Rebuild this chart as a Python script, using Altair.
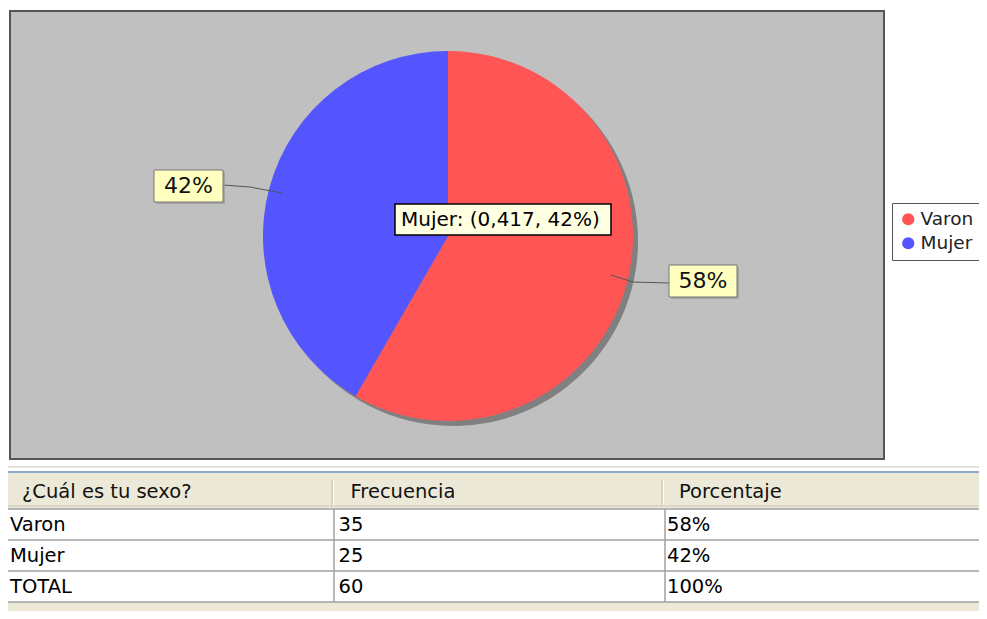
import altair as alt
import pandas as pd

# ---- data ----
categories = ["Varon", "Mujer"]
frecuencias = [35, 25]
porcentajes = ["58%", "42%"]
total_label = "TOTAL"
total_frecuencia = 60
total_porcentaje = "100%"
header_labels = ["¿Cuál es tu sexo?", "Frecuencia", "Porcentaje"]
colors = ["#ff5555", "#5555ff"]
tooltip_category = "Mujer"

FONT = "DejaVu Sans"
W, H = 971, 603
CX, CY, R = 440, 228, 185

one = pd.DataFrame({"k": [0]})


def box(x1, x2, y1, y2, fill, stroke=None, sw=1, opacity=1):
    kw = dict(fill=fill, opacity=opacity)
    if stroke:
        kw.update(stroke=stroke, strokeWidth=sw)
    return alt.Chart(one).mark_rect(**kw).encode(
        x=alt.value(x1), x2=alt.value(x2), y=alt.value(y1), y2=alt.value(y2)
    )


def line(x1, y1, x2, y2, color, sw=1):
    return alt.Chart(one).mark_rule(color=color, strokeWidth=sw).encode(
        x=alt.value(x1), x2=alt.value(x2), y=alt.value(y1), y2=alt.value(y2)
    )


def label(text, x, y, size=20, align="center", color="#111"):
    return alt.Chart(one).mark_text(
        text=text, font=FONT, fontSize=size, align=align, baseline="middle", color=color
    ).encode(x=alt.value(x), y=alt.value(y))


# ---- pie ----
pie_df = pd.DataFrame(
    {"sexo": categories, "frecuencia": frecuencias, "orden": list(range(len(categories)))}
)
theta = alt.Theta("frecuencia:Q", stack=True)
color_scale = alt.Scale(domain=categories, range=colors)

plot_bg = box(2, 876, 3, 451, "#c0c0c0", stroke="#555555", sw=2)

shadow = alt.Chart(pie_df).mark_arc(radius=R, color="#808080").encode(
    theta=theta, order=alt.Order("orden:Q"), x=alt.value(CX + 5), y=alt.value(CY + 5)
)
pie = alt.Chart(pie_df).mark_arc(radius=R).encode(
    theta=theta,
    order=alt.Order("orden:Q"),
    color=alt.Color(
        "sexo:N",
        scale=color_scale,
        legend=alt.Legend(
            title=None,
            orient="none",
            legendX=884,
            legendY=195,
            symbolType="circle",
            symbolSize=150,
            symbolStrokeWidth=0,
            labelFont=FONT,
            labelFontSize=18.5,
            labelColor="#222222",
            labelOffset=3,
            strokeColor="#555555",
            fillColor="white",
            padding=7,
            rowPadding=5,
        ),
    ),
    x=alt.value(CX),
    y=alt.value(CY),
)

# section labels
lbl_mujer = [
    line(215, 177, 242, 179, "#555555"),
    line(242, 179, 274, 185, "#555555"),
    box(148, 217, 164, 196, "#9a9a9a", opacity=0.7),
    box(146, 215, 162, 194, "#ffffc0", stroke="#777777"),
    label(porcentajes[1], 180.5, 178, size=22),
]
lbl_varon = [
    line(603, 267, 625, 274, "#555555"),
    line(625, 274, 661, 275, "#555555"),
    box(663, 731, 259, 291, "#9a9a9a", opacity=0.7),
    box(661, 729, 257, 289, "#ffffc0", stroke="#777777"),
    label(porcentajes[0], 695, 273, size=22),
]

# tooltip
idx = categories.index(tooltip_category)
frac = frecuencias[idx] / sum(frecuencias)
tip_text = f"{tooltip_category}: ({frac:.3f}".replace(".", ",") + f", {porcentajes[idx]})"
tooltip = [
    box(387, 603, 196, 227, "#ffffe1", stroke="#000000", sw=1.5),
    label(tip_text, 393, 212, size=20, align="left", color="#000000"),
]

# ---- table ----
rows = categories + [total_label]
col_keys = ["c0", "c1", "c2"]
table_wide = pd.DataFrame(
    {
        "fila": rows,
        "c0": rows,
        "c1": [str(f) for f in frecuencias] + [str(total_frecuencia)],
        "c2": porcentajes + [total_porcentaje],
    }
)
table_df = table_wide.melt(id_vars="fila", var_name="col", value_name="valor")
header_df = pd.DataFrame({"col": col_keys, "valor": header_labels})

x_col = alt.X("col:N", scale=alt.Scale(type="point", domain=col_keys, range=[2, 659], padding=0), axis=None)

table_bg = [
    line(0, 459, W, 459, "#c8c6bc", 1),
    box(0, W, 465, H, "#ece9d8"),
    line(0, 464, W, 464, "#8fa9cc", 2),
    line(0, 498, W, 498, "#dcd8c8", 2),
    line(324, 472, 324, 497, "#c4c0b0", 1),
    line(325.5, 472, 325.5, 497, "#ffffff", 1),
    line(654, 472, 654, 497, "#c4c0b0", 1),
    line(655.5, 472, 655.5, 497, "#ffffff", 1),
    box(0, W, 501, 594, "#ffffff"),
    line(0, 501, W, 501, "#a0a0a0", 1.5),
    line(0, 532, W, 532, "#a0a0a0", 1.5),
    line(0, 563, W, 563, "#a0a0a0", 1.5),
    line(0, 594, W, 594, "#a0a0a0", 1.5),
    line(326, 501, 326, 594, "#a0a0a0", 1.5),
    line(657, 501, 657, 594, "#a0a0a0", 1.5),
]

header_text = alt.Chart(header_df).mark_text(
    font=FONT, fontSize=19.5, align="left", baseline="middle", color="#111111", dx=12
).encode(x=x_col, y=alt.value(484), text="valor:N")

cell_text = alt.Chart(table_df).mark_text(
    font=FONT, fontSize=19.5, align="left", baseline="middle", color="#000000"
).encode(
    x=x_col,
    y=alt.Y("fila:N", scale=alt.Scale(type="point", domain=rows, range=[517, 579], padding=0), axis=None),
    text="valor:N",
)

chart = alt.layer(
    plot_bg,
    shadow,
    pie,
    *lbl_mujer,
    *lbl_varon,
    *tooltip,
    *table_bg,
    header_text,
    cell_text,
).properties(
    width=W,
    height=H,
    autosize=alt.AutoSizeParams(type="none"),
    padding=0,
    background="white",
).configure_view(stroke=None)

chart.save("out.html", embed_options={"renderer": "svg", "actions": False})
